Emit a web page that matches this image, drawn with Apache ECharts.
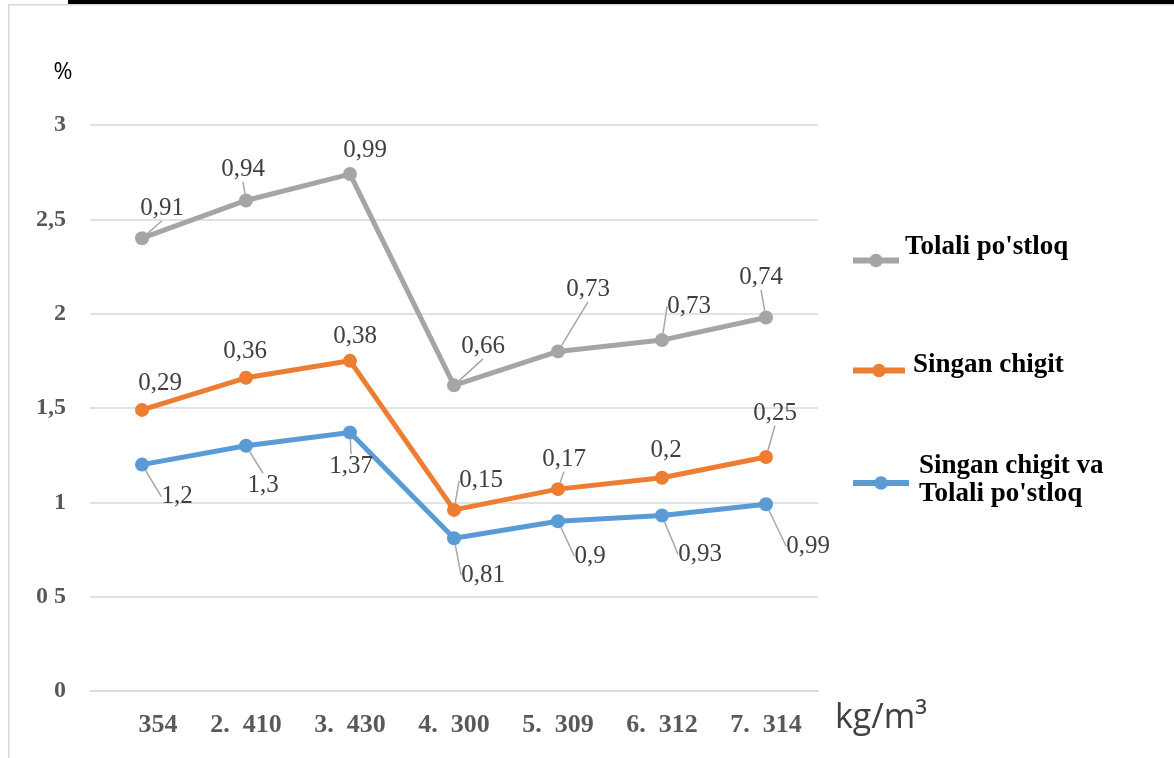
<!DOCTYPE html>
<html><head><meta charset="utf-8">
<script src="https://cdn.jsdelivr.net/npm/echarts@6/dist/echarts.min.js"></script>
<style>html,body{margin:0;padding:0;background:#fff}#c{width:1174px;height:758px}</style>
</head><body><div id="c"></div>
<script>
const categories = ['354', '2.  410', '3.  430', '4.  300', '5.  309', '6.  312', '7.  314'];
const seriesNames = ['Singan chigit va\nTolali po\'stloq', 'Singan chigit', 'Tolali po\'stloq'];
const blueValues = [1.2, 1.3, 1.37, 0.81, 0.9, 0.93, 0.99];
const orangeValues = [0.29, 0.36, 0.38, 0.15, 0.17, 0.2, 0.25];
const grayValues = [0.91, 0.94, 0.99, 0.66, 0.73, 0.73, 0.74];
const yTickLabels = {0: '0', 0.5: '0 5', 1: '1', 1.5: '1,5', 2: '2', 2.5: '2,5', 3: '3'};
const xUnit = 'kg/m³';
const yUnit = '%';

// label displacement and leader-line visibility (styling only)
const labelShift = [
  [[35,32],[17,40],[1,34],[29,37],[32,35],[38,39],[42,42]],
  [[18,-26],[-1,-26],[5,-24],[27,-29],[6,-30],[4,-27],[9,-44]],
  [[20,-30],[-3,-31],[15,-24],[29,-39],[30,-62],[27,-34],[-5,-40]]
];
const leaderShown = [
  [1,1,1,1,1,1,1],
  [0,0,0,1,1,0,1],
  [1,1,0,1,1,1,1]
];
const colors = ['#5b9bd5', '#ed7d31', '#a5a5a5'];
const values = [blueValues, orangeValues, grayValues];

const chart = echarts.init(document.getElementById('c'));
const serif = '"Liberation Serif", "DejaVu Serif", serif';
const sans = '"Open Sans", "Liberation Sans", sans-serif';
const series = values.map((vals, si) => ({
  name: seriesNames[si],
  type: 'line',
  stack: 'total',
  data: vals.map((v, i) => ({value: v, labelLine: {show: !!leaderShown[si][i]}})),
  symbol: 'circle',
  symbolSize: 14,
  z: 3 + si,
  lineStyle: {width: 5, color: colors[si]},
  itemStyle: {color: colors[si]},
  label: {
    show: true,
    position: 'inside',
    formatter: p => String(p.value).replace('.', ','),
    fontFamily: serif,
    fontSize: 25,
    color: '#404040'
  },
  labelLine: {show: true, lineStyle: {color: '#a6a6a6', width: 1.5}},
  labelLayout: p => ({dx: labelShift[si][p.dataIndex][0], dy: labelShift[si][p.dataIndex][1]})
}));

const legendRich = {
  a: {fontFamily: serif, fontSize: 27, fontWeight: 'bold', color: '#000', lineHeight: 28},
  g: {lineHeight: 26, fontSize: 10},
  s: {lineHeight: 10, fontSize: 8},
  t: {lineHeight: 5, fontSize: 4}
};
const legendBase = {
  orient: 'vertical', left: 845, itemHeight: 17, itemGap: 0,
  lineStyle: {width: 6}
};
function legendOf(name, top, spacer, padLeft, width) {
  return Object.assign({}, legendBase, {
    data: [name], top: top, itemWidth: width,
    formatter: n => n.split('\n').map(l => '{a|' + l + '}').join('\n') + '\n{' + spacer + '|}',
    textStyle: {rich: legendRich, padding: [0, 0, 0, padLeft]}
  });
}

chart.setOption({
  animation: false,
  backgroundColor: '#fff',
  grid: {left: 90, right: 356, top: 125, bottom: 67},
  legend: [
    legendOf(seriesNames[2], 229, 'g', 1, 46),
    legendOf(seriesNames[1], 347, 's', 3, 52),
    legendOf(seriesNames[0], 448, 't', 5, 56)
  ],
  xAxis: {
    type: 'category', data: categories, boundaryGap: true,
    axisLine: {lineStyle: {color: '#d9d9d9', width: 1.5}},
    axisTick: {show: false},
    axisLabel: {margin: 21, fontFamily: serif, fontSize: 26, fontWeight: 'bold', color: '#595959',
      formatter: (v, i) => i === 0 ? '{f|' + v + '}' : v,
      rich: {f: {fontFamily: serif, fontSize: 26, fontWeight: 'bold', color: '#595959', padding: [0, 0, 0, 32]}}}
  },
  yAxis: {
    type: 'value', min: 0, max: 3, interval: 0.5,
    axisLine: {show: false}, axisTick: {show: false},
    splitLine: {lineStyle: {color: '#d9d9d9', width: 1.5}},
    axisLabel: {margin: 24, fontFamily: serif, fontSize: 24, fontWeight: 'bold', color: '#595959',
      formatter: v => yTickLabels[v] !== undefined ? yTickLabels[v] : String(v)}
  },
  graphic: [
    {type: 'rect', left: 68, top: 0, shape: {width: 1106, height: 4}, style: {fill: '#000'}},
    {type: 'rect', left: 8, top: 4, shape: {width: 1166, height: 1.5}, style: {fill: '#d9d9d9'}},
    {type: 'rect', left: 8, top: 4, shape: {width: 1.5, height: 754}, style: {fill: '#d9d9d9'}},
    {type: 'text', x: 835, y: 718, style: {text: xUnit, font: '34px ' + sans, fill: '#404040', verticalAlign: 'middle'}},
    {type: 'text', x: 63, y: 72, style: {text: yUnit, font: '23px ' + sans, fill: '#000', align: 'center', verticalAlign: 'middle'}}
  ],
  series: series
});
</script></body></html>
